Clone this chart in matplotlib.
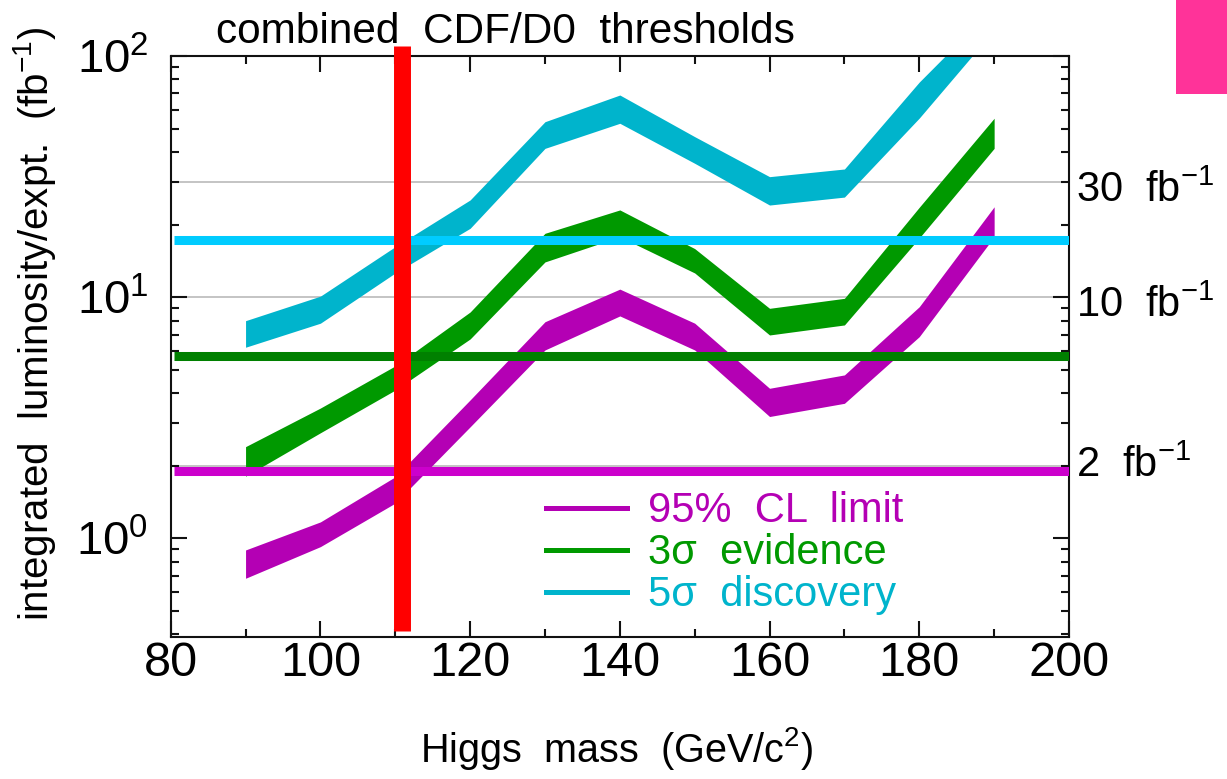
import matplotlib
matplotlib.use("Agg")
import matplotlib.pyplot as plt
from matplotlib.lines import Line2D
from matplotlib.patches import Rectangle
from matplotlib.transforms import blended_transform_factory, offset_copy
from matplotlib.ticker import FixedLocator, LogLocator, NullFormatter

plt.rcParams["font.family"] = ["Liberation Sans", "DejaVu Sans"]
plt.rcParams["mathtext.default"] = "regular"

# Higgs mass points (GeV/c^2)
masses = [90, 100, 110, 120, 130, 140, 150, 160, 170, 180, 190]

# Required integrated luminosity per experiment (fb^-1): band edges
limit95_hi = [0.895, 1.17, 1.80, 3.75, 7.91, 10.8, 7.80, 4.19, 4.76, 9.13, 23.7]
limit95_lo = [0.683, 0.924, 1.40, 2.90, 6.04, 8.36, 6.04, 3.20, 3.63, 6.86, 17.8]
evid3_hi = [2.40, 3.47, 5.19, 8.68, 18.4, 23.0, 15.9, 8.99, 9.89, 23.6, 55.2]
evid3_lo = [1.81, 2.74, 4.12, 6.71, 14.0, 17.8, 12.6, 6.97, 7.67, 17.6, 41.4]
disc5_hi = [7.99, 10.1, 16.2, 25.3, 53.4, 68.9, 46.3, 31.6, 34.0, 78.0, 160.0]
disc5_lo = [6.20, 7.80, 12.6, 19.3, 41.4, 52.6, 35.9, 24.1, 26.0, 55.3, 128.0]

series_labels = ["95%  CL  limit", "3σ  evidence", "5σ  discovery"]
band_colors = ["#B400B4", "#009900", "#00B4CC"]

# Horizontal threshold levels (fb^-1) and their colours
threshold_levels = [1.9, 5.7, 17.2]
threshold_colors = ["#CC00CC", "#008000", "#00CCFF"]

# Reference luminosities marked on the right
ref_levels = [2, 10, 30]
ref_labels = ["2  fb$^{-1}$", "10  fb$^{-1}$", "30  fb$^{-1}$"]

# Mass of the vertical marker
marker_mass = 110.9

x_major = [80, 100, 120, 140, 160, 180, 200]
x_minor = [90, 110, 130, 150, 170, 190]
y_major = [1, 10, 100]
y_major_labels = ["$10^{0}$", "$10^{1}$", "$10^{2}$"]

fig = plt.figure(figsize=(12.27, 7.79), dpi=100)
ax = fig.add_axes([0.13912, 0.18267, 0.73211, 0.74544])

ax.set_yscale("log")
ax.set_xlim(80, 200)
ax.set_ylim(0.391, 100)

# light reference grid lines
for lev in ref_levels:
    ax.axhline(lev, color="#C4C4C4", lw=1.4, zorder=1)

# luminosity bands
bands = [(limit95_lo, limit95_hi), (evid3_lo, evid3_hi), (disc5_lo, disc5_hi)]
for (lo, hi), col in zip(bands, band_colors):
    ax.fill_between(masses, lo, hi, color=col, lw=0, zorder=2)

# threshold lines
for lev, col in zip(threshold_levels, threshold_colors):
    ax.axhline(lev, xmin=0.004, xmax=1.0, color=col, lw=6.5,
               solid_capstyle="butt", zorder=3)

# vertical mass marker
ax.plot([marker_mass, marker_mass], [0.0103, 1.0172],
        transform=ax.get_xaxis_transform(), color="#FF0000", lw=12.2,
        solid_capstyle="butt", clip_on=False, zorder=5)

# axes, ticks
for sp in ax.spines.values():
    sp.set_linewidth(1.5)
    sp.set_color("#111111")

ax.xaxis.set_major_locator(FixedLocator(x_major))
ax.xaxis.set_minor_locator(FixedLocator(x_minor))
ax.set_xticks(x_major)
ax.set_xticklabels([str(v) for v in x_major])
ax.yaxis.set_major_locator(FixedLocator(y_major))
ax.yaxis.set_minor_locator(LogLocator(base=10, subs=[2, 3, 4, 5, 6, 7, 8, 9]))
ax.yaxis.set_minor_formatter(NullFormatter())
ax.set_yticks(y_major)
ax.set_yticklabels(y_major_labels)

ax.tick_params(which="both", direction="in", top=True, right=True,
               width=1.5, color="#111111")
ax.tick_params(which="major", length=11.5)
ax.tick_params(which="minor", length=5.8)
ax.tick_params(axis="x", which="major", labelsize=35, pad=3)
ax.tick_params(axis="y", which="major", labelsize=34, pad=16)

ax.set_xlabel("Higgs  mass  (GeV/c$^{2}$)", fontsize=28.5)
ax.xaxis.label.set_va("baseline")
ax.xaxis.set_label_coords(0.496, -0.2158)

ax.set_ylabel("integrated  luminosity/expt.  (fb$^{-1}$)", fontsize=29)
ax.yaxis.set_label_coords(-0.1255, 0.5385)

ax.set_title("combined  CDF/D0  thresholds", fontsize=30.5,
             x=0.373, y=1.0229, pad=0)

# labels for the reference luminosities on the right
blend = blended_transform_factory(ax.transAxes, ax.transData)
label_drop = [7.9, 14.4, 14.4]
for lev, txt, dy in zip(ref_levels, ref_labels, label_drop):
    tr = offset_copy(blend, fig=fig, x=0, y=-dy, units="points")
    ax.text(1.008, lev, txt, transform=tr, fontsize=30, ha="left",
            va="baseline", clip_on=False)

# legend
handles = [Line2D([], [], color=c, lw=3.6) for c in band_colors]
leg = ax.legend(handles, series_labels, loc="upper left",
                bbox_to_anchor=(0.4178, 0.2504), frameon=False, fontsize=30,
                handlelength=1.94, handletextpad=0.5, labelspacing=0.05,
                borderpad=0, borderaxespad=0)
for t, c in zip(leg.get_texts(), band_colors):
    t.set_color(c)

# corner tab
fig.add_artist(Rectangle((1176 / 1227, 1 - 94 / 779), 51 / 1227, 94 / 779,
                         transform=fig.transFigure, color="#FF3399", lw=0))

fig.savefig("out.png", dpi=100)
